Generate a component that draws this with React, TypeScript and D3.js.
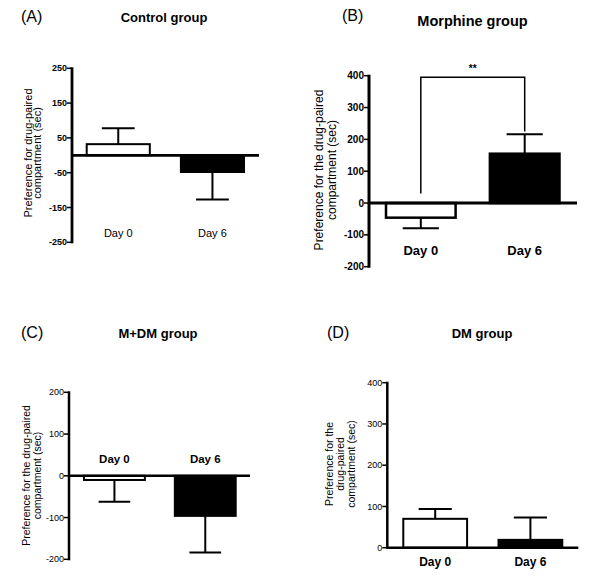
import React from "react";
import * as d3 from "d3";

// group names, shown as panel titles
const panelLetters = ["(A)", "(B)", "(C)", "(D)"];
const groupTitles = ["Control group", "Morphine group", "M+DM group", "DM group"];
const days = ["Day 0", "Day 6"];

// mean preference (sec) for Day 0 / Day 6
const controlMeans = [32, -48];
const morphineMeans = [-46, 155];
const mdmMeans = [-10, -96];
const dmMeans = [70, 19];

// mean + / - SEM end points
const controlErr = [78, -127];
const morphineErr = [-79, 216];
const mdmErr = [-62, -184];
const dmErr = [94, 73];

const controlTicks = [-250, -150, -50, 50, 150, 250];
const morphineTicks = [-200, -100, 0, 100, 200, 300, 400];
const mdmTicks = [-200, -100, 0, 100, 200];
const dmTicks = [0, 100, 200, 300, 400];

// significance bracket, Morphine group: [top, left leg end, right leg end]
const morphineBracket = [395, 30, 225];
const morphineStars = "**";

const yLabels = [
  ["Preference for drug-paired", "compartment (sec)"],
  ["Preference for the drug-paired", "compartment (sec)"],
  ["Preference for the drug-paired", "compartment (sec)"],
  ["Preference for the", "drug-paired", "compartment (sec)"],
];

const font = "'Liberation Sans', Arial, Helvetica, sans-serif";

type Layout = {
  axisX: number; axisEnd: number; yMin: number; yMax: number;
  yBottom: number; yTop: number; barL: number; barR: number;
  letter: [number, number]; title: [number, number, number];
  yLab: { xs: number[]; cy: number; size: number };
  tickSize: number; tickBold: boolean; axisW: number; barW: number;
  dayY: number; daySize: number; dayBold: boolean;
};

const layouts: Layout[] = [
  { axisX: 72, axisEnd: 259, yMin: -250, yMax: 250, yBottom: 242.3, yTop: 68.3, barL: 86.7, barR: 244,
    letter: [21, 22], title: [164, 22, 13], yLab: { xs: [31.5, 40.5], cy: 153, size: 11 },
    tickSize: 9, tickBold: true, axisW: 2.8, barW: 2, dayY: 237, daySize: 11, dayBold: false },
  { axisX: 369, axisEnd: 577, yMin: -200, yMax: 400, yBottom: 266.7, yTop: 75.7, barL: 386, barR: 559.5,
    letter: [342, 21], title: [472.5, 26, 14.5], yLab: { xs: [322.5, 335.5], cy: 170, size: 12 },
    tickSize: 10, tickBold: true, axisW: 3, barW: 2.5, dayY: 255, daySize: 13, dayBold: true },
  { axisX: 69, axisEnd: 250, yMin: -200, yMax: 200, yBottom: 559.3, yTop: 392.3, barL: 84, barR: 235.7,
    letter: [21, 338], title: [158, 338, 13], yLab: { xs: [30, 41], cy: 475.5, size: 10.5 },
    tickSize: 9, tickBold: false, axisW: 2.5, barW: 2, dayY: 462.5, daySize: 11.5, dayBold: true },
  { axisX: 387.3, axisEnd: 578.3, yMin: 0, yMax: 400, yBottom: 547.7, yTop: 382.7, barL: 403.3, barR: 562.3,
    letter: [327, 338], title: [482, 338, 13], yLab: { xs: [333, 344, 355], cy: 464, size: 10.5 },
    tickSize: 9, tickBold: false, axisW: 2.5, barW: 2, dayY: 566, daySize: 12, dayBold: true },
];

const means = [controlMeans, morphineMeans, mdmMeans, dmMeans];
const errs = [controlErr, morphineErr, mdmErr, dmErr];
const ticks = [controlTicks, morphineTicks, mdmTicks, dmTicks];
const fills = ["#ffffff", "#000000"];

function Panel({ i }: { i: number }) {
  const L = layouts[i];
  const y = d3.scaleLinear().domain([L.yMin, L.yMax]).range([L.yBottom, L.yTop]);
  const x = d3.scaleBand<string>().domain(days).range([L.barL, L.barR]).paddingInner(0.33).paddingOuter(0);
  const bw = x.bandwidth();
  const capW = bw * 0.52;
  const y0 = y(0);
  return (
    <g fontFamily={font}>
      <text x={L.letter[0]} y={L.letter[1]} fontSize={16}>{panelLetters[i]}</text>
      <text x={L.title[0]} y={L.title[1]} fontSize={L.title[2]} fontWeight="bold" textAnchor="middle">
        {groupTitles[i]}
      </text>
      {yLabels[i].map((line, k) => (
        <text key={k} transform={`translate(${L.yLab.xs[k]},${L.yLab.cy}) rotate(-90)`}
          fontSize={L.yLab.size} textAnchor="middle">{line}</text>
      ))}
      {days.map((d, k) => {
        const v = means[i][k];
        const e = errs[i][k];
        const cx = x(d)! + bw / 2;
        return (
          <g key={d}>
            <line x1={cx} x2={cx} y1={y(v)} y2={y(e)} stroke="#000" strokeWidth={2} />
            <line x1={cx - capW / 2} x2={cx + capW / 2} y1={y(e)} y2={y(e)} stroke="#000" strokeWidth={2} />
            <rect x={x(d)} width={bw} y={Math.min(y(v), y0)} height={Math.abs(y(v) - y0)}
              fill={fills[k]} stroke="#000" strokeWidth={L.barW} />
          </g>
        );
      })}
      <line x1={L.axisX} x2={L.axisEnd} y1={y0} y2={y0} stroke="#000" strokeWidth={L.axisW} />
      <line x1={L.axisX} x2={L.axisX} y1={y(L.yMin) + 1} y2={y(L.yMax) - 1} stroke="#000" strokeWidth={L.axisW} />
      {ticks[i].map((t) => (
        <g key={t}>
          <line x1={L.axisX - 5} x2={L.axisX} y1={y(t)} y2={y(t)} stroke="#000" strokeWidth={1.5} />
          <text x={L.axisX - 5} y={y(t)} dy="0.35em" fontSize={L.tickSize} textAnchor="end"
            fontWeight={L.tickBold ? "bold" : "normal"}>{t}</text>
        </g>
      ))}
      {days.map((d) => (
        <text key={d} x={x(d)! + bw / 2} y={L.dayY} fontSize={L.daySize} textAnchor="middle"
          fontWeight={L.dayBold ? "bold" : "normal"}>{d}</text>
      ))}
      {i === 1 && (
        <g>
          <path
            d={`M${x(days[0])! + bw / 2},${y(morphineBracket[1])}V${y(morphineBracket[0])}H${x(days[1])! + bw / 2}V${y(morphineBracket[2])}`}
            fill="none" stroke="#000" strokeWidth={1.5} />
          <text x={(x(days[0])! + x(days[1])! + bw) / 2} y={y(morphineBracket[0]) - 5}
            fontSize={10} fontWeight="bold" textAnchor="middle">{morphineStars}</text>
        </g>
      )}
    </g>
  );
}

export default function App() {
  return (
    <svg width={600} height={585} style={{ position: "absolute", left: 0, top: 0, background: "#fff" }}>
      <rect width={600} height={585} fill="#fff" />
      {layouts.map((_, i) => <Panel key={i} i={i} />)}
    </svg>
  );
}
